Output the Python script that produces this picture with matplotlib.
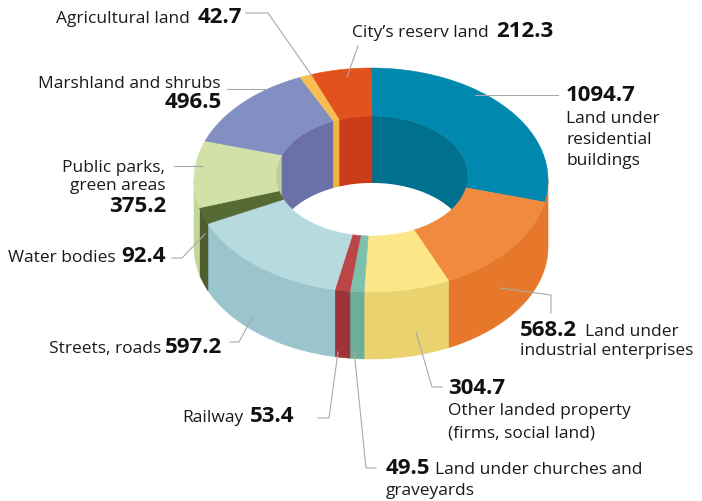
#!/usr/bin/env python3

import numpy as np
import matplotlib
matplotlib.use("Agg")
import matplotlib.pyplot as plt
from matplotlib.patches import Polygon, Ellipse

# clockwise from 12 o'clock
names = ["residential", "industrial", "other", "churches", "railway", "streets",
         "water", "parks", "marsh", "agricultural", "city"]
values = [1094.7, 568.2, 304.7, 49.5, 53.4, 597.2, 92.4, 375.2, 496.5, 42.7, 212.3]
top_colors = ["#0088ae", "#ef8a3f", "#fde688", "#7dc1ad", "#bc4547", "#b6dade",
              "#566a33", "#d2e1a8", "#818fc3", "#f8bd54", "#e1521c"]
# the blue sliver on the far right reads as orange in the picture
side_colors = ["#e6772b", "#e6772b", "#ead26e", "#6cae98", "#9d3439", "#9ac5cd",
               "#4d5e2c", "#c3d69a", "#6c72a8", "#f2b440", "#cb3d19"]
wall_colors = ["#00708f", "#e6772b", "#ead26e", "#6cae98", "#9d3439", "#9ac5cd",
               "#4d5e2c", "#b9d195", "#6b71a8", "#f2b440", "#cb3d19"]

plain_labels = [
    ("Agricultural land", 56, 23), ("City\u2019s reserv land", 352, 37),
    ("Land under", 566, 123), ("residential", 566, 144), ("buildings", 566, 165),
    ("Land under", 585, 336), ("industrial enterprises", 520, 355),
    ("Other landed property", 448, 415), ("(firms, social land)", 448, 437),
    ("Land under churches and", 435, 474), ("graveyards", 386, 495),
    ("Railway", 182, 422), ("Streets, roads", 49, 353), ("Water bodies", 8, 262),
]
plain_right = [("Marshland and shrubs", 221, 88), ("Public parks,", 165, 172), ("green areas", 165, 190)]
bold_labels = [
    ("42.7", 198, 23), ("212.3", 496, 37), ("1094.7", 566, 101), ("568.2", 520, 336),
    ("304.7", 448, 394), ("49.5", 386, 474), ("53.4", 250, 422), ("597.2", 165, 353),
    ("92.4", 121, 262), ("375.2", 109, 212), ("496.5", 165, 108),
]

leaders = [
    ([246, 268, 312], [13, 13, 76]),
    ([347, 358], [77, 46]),
    ([475, 558], [95, 95]),
    ([500, 551, 551], [288, 295, 313]),
    ([416, 432, 442], [332, 387, 387]),
    ([354, 366, 376], [350, 468, 468]),
    ([338, 329, 318], [352, 418, 418]),
    ([252, 239, 230], [318, 342, 342]),
    ([205, 182, 172], [234, 258, 258]),
    ([202, 174], [166, 166]),
    ([265, 227], [89, 89]),
]

# ring geometry in picture pixels
cx, cy, a, b = 371, 180, 177, 112
icx, icy, ia, ib = 372, 176, 96, 60
depth = 67

edges = np.concatenate([[0], np.cumsum(values)]) / sum(values) * 360


def arc(t0, t1, x0, y0, rx, ry, n=60):
    t = np.radians(np.linspace(t0, t1, n))
    return np.column_stack([x0 + rx * np.sin(t), y0 - ry * np.cos(t)])


def add_poly(ax, pts, color, z):
    ax.add_patch(Polygon(pts, closed=True, facecolor=color, edgecolor=color, linewidth=0.4, zorder=z))


fig = plt.figure(figsize=(7.02, 5.01), dpi=100)
ax = fig.add_axes([0, 0, 1, 1])
ax.set_xlim(0, 702)
ax.set_ylim(501, 0)
ax.axis("off")

# inner wall, only the back half shows
for i in range(len(values)):
    for lo, hi in [(0, 90), (270, 360)]:
        t0, t1 = max(edges[i], lo), min(edges[i + 1], hi)
        if t1 > t0:
            up = arc(t0, t1, icx, icy, ia, ib)
            add_poly(ax, np.vstack([up, (up + [0, depth])[::-1]]), wall_colors[i], 1)

ax.add_patch(Ellipse((icx, icy + depth), 2 * ia, 2 * ib, facecolor="white", edgecolor="none", zorder=2))

# outer wall, front half
for i in range(len(values)):
    t0, t1 = max(edges[i], 90), min(edges[i + 1], 270)
    if t1 > t0:
        up = arc(t0, t1, cx, cy, a, b)
        add_poly(ax, np.vstack([up, (up + [0, depth])[::-1]]), side_colors[i], 3)

# top face
for i in range(len(values)):
    outer = arc(edges[i], edges[i + 1], cx, cy, a, b)
    inner = arc(edges[i], edges[i + 1], icx, icy, ia, ib)
    add_poly(ax, np.vstack([outer, inner[::-1]]), top_colors[i], 4)

for xs, ys in leaders:
    ax.plot(xs, ys, color="#a9a9a9", lw=0.8, zorder=5, solid_joinstyle="miter")

font = "Open Sans"
for txt, x, y in plain_labels:
    ax.text(x, y, txt, fontsize=12.5, family=font, color="#1a1a1a", ha="left", va="baseline", zorder=6)
for txt, x, y in plain_right:
    ax.text(x, y, txt, fontsize=12.5, family=font, color="#1a1a1a", ha="right", va="baseline", zorder=6)
for txt, x, y in bold_labels:
    ax.text(x, y, txt, fontsize=16, family=font, weight="bold", color="#111111", ha="left", va="baseline", zorder=6)

fig.savefig("out.png", dpi=100)
plt.close(fig)
